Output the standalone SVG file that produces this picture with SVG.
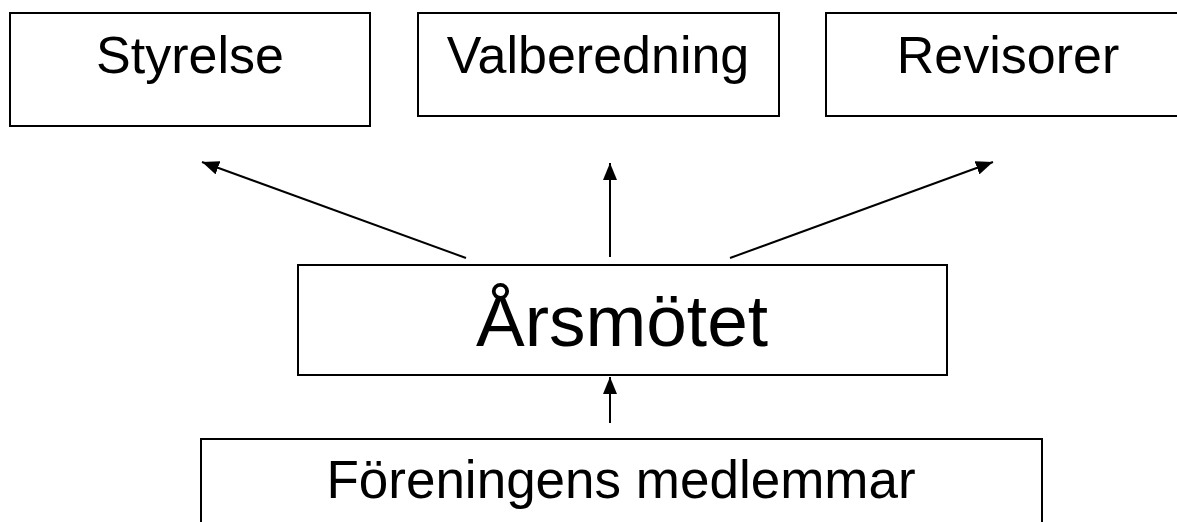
<svg xmlns="http://www.w3.org/2000/svg" width="1177" height="522" viewBox="0 0 1177 522">
<style>
.box{fill:#fff;stroke:#000;stroke-width:2}
.lbl{font-family:"Liberation Sans",Arial,sans-serif;fill:#000;text-anchor:middle}
.conn{stroke:#000;stroke-width:2;fill:none;marker-end:url(#ah)}
</style>
<defs>
<marker id="ah" markerUnits="userSpaceOnUse" markerWidth="18" markerHeight="14" refX="17" refY="7" orient="auto">
<path d="M0,0 L17,7 L0,14 Z" fill="#000"/>
</marker>
</defs>
<rect width="1177" height="522" fill="#fff"/>
<g id="styrelse"><rect class="box" x="10" y="13" width="360" height="113"/><text class="lbl" x="190" y="73" font-size="52">Styrelse</text></g>
<g id="valberedning"><rect class="box" x="418" y="13" width="361" height="103"/><text class="lbl" x="598" y="73" font-size="52">Valberedning</text></g>
<g id="revisorer"><rect class="box" x="826" y="13" width="400" height="103"/><text class="lbl" x="1008" y="73" font-size="52">Revisorer</text></g>
<g id="arsmotet"><rect class="box" x="298" y="265" width="649" height="110"/><text class="lbl" x="622" y="346" font-size="73">Årsmötet</text></g>
<g id="medlemmar"><rect class="box" x="201" y="439" width="841" height="100"/><text class="lbl" x="621" y="498" font-size="53">Föreningens medlemmar</text></g>
<g id="connectors">
<line class="conn" x1="466" y1="258" x2="202" y2="162"/>
<line class="conn" x1="610" y1="257" x2="610" y2="163"/>
<line class="conn" x1="730" y1="258" x2="993" y2="162"/>
<line class="conn" x1="610" y1="423" x2="610" y2="377"/>
</g>
</svg>
